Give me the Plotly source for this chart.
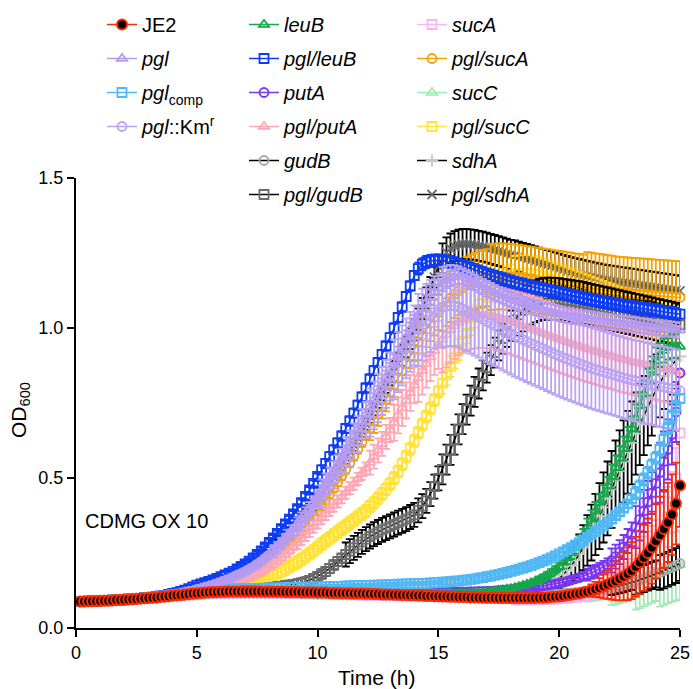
import plotly.graph_objects as go

# Time points (minutes), one reading every 10 min
TIME_MIN = list(range(10, 1501, 10))

# ---- Mean OD600 values (x1000), 6 readings per hour ----
JE2 = [
88,88,89,89,90,90, 91,91,92,93,93,94, 95,96,97,98,99,100, 101,102,104,105,106,108,
109,110,112,113,115,116, 117,118,119,120,120,121, 121,122,122,122,122,122, 122,122,122,122,121,121,
121,121,121,120,120,120, 120,119,119,119,119,118, 118,118,117,117,117,116, 116,116,115,115,115,114,
114,113,113,112,112,112, 111,111,110,110,109,109, 108,108,107,107,106,106, 105,105,104,104,103,103,
103,102,102,102,101,101, 101,101,100,100,100,100, 100,100,100,100,100,100, 101,101,102,103,104,105,
107,109,111,113,115,118, 121,125,129,134,139,145, 151,157,164,172,181,191, 204,218,234,250,268,290,
310,330,352,378,415,475]
PGL = [
88,89,89,90,90,91, 91,92,92,93,94,95, 96,97,98,99,100,101, 102,104,105,107,109,111,
113,116,119,122,125,129, 133,137,141,145,150,155, 160,165,171,177,183,190, 198,206,215,225,236,248,
260,273,286,300,315,330, 346,363,380,398,418,440, 461,481,501,521,543,566, 590,614,639,663,688,712,
737,762,787,812,838,864, 890,916,943,970,997,1022, 1045,1066,1086,1104,1120,1135, 1148,1158,1165,1170,1172,1172,
1165,1158,1151,1144,1137,1130, 1124,1118,1112,1106,1100,1095, 1090,1085,1080,1076,1072,1068, 1064,1060,1057,1054,1051,1048,
1045,1042,1040,1038,1036,1034, 1032,1030,1028,1026,1024,1022, 1020,1018,1017,1015,1013,1012, 1010,1008,1007,1005,1003,1002,
1000,998,997,995,994,992]
PGL_COMP = [
89,89,90,90,91,91, 92,92,93,94,94,95, 96,97,98,99,100,101, 102,104,105,107,108,110,
111,113,115,117,119,121, 122,124,125,126,127,128, 129,129,130,130,131,131, 131,132,132,132,133,133,
133,134,134,134,135,135, 135,136,136,136,137,137, 137,138,138,139,139,139, 140,140,141,141,142,142,
142,143,143,144,144,145, 145,146,146,147,147,148, 148,149,149,150,151,152, 153,154,155,156,157,159,
160,162,164,166,168,171, 173,176,179,182,185,189, 192,196,200,204,208,213, 218,223,228,234,240,247,
254,261,268,276,284,293, 302,311,321,331,341,352, 363,375,387,400,414,430, 450,472,495,518,542,567,
595,628,665,705,738,765]
PGL_KM = [
88,88,89,89,90,90, 91,91,92,93,93,94, 95,96,97,98,99,100, 102,103,105,106,108,110,
112,115,118,121,124,128, 131,135,139,143,148,153, 158,163,169,175,181,188, 195,203,212,221,232,243,
255,267,280,294,308,323, 339,355,372,390,409,429, 450,470,490,510,531,553, 576,599,622,646,670,694,
718,742,766,790,814,838, 862,886,909,932,954,975, 994,1011,1026,1040,1052,1062, 1069,1073,1075,1074,1070,1064,
1057,1050,1043,1036,1029,1022, 1015,1008,1001,994,987,980, 973,967,961,955,949,943, 937,931,925,919,913,907,
901,896,891,886,881,876, 871,866,862,858,854,850, 846,842,838,834,830,827, 824,821,818,815,812,809,
806,803,800,797,794,791]
LEUB = [
88,88,89,89,90,90, 91,91,92,92,93,94, 95,96,97,97,98,99, 100,101,102,103,104,105,
106,107,108,109,110,111, 112,113,113,114,114,115, 115,115,116,116,116,116, 116,116,116,116,116,116,
116,116,116,116,115,115, 115,115,115,115,114,114, 114,114,114,113,113,113, 113,113,112,112,112,112,
112,112,111,111,111,111, 111,111,111,111,111,111, 111,111,111,111,112,112, 112,112,113,113,114,114,
115,116,117,118,119,120, 121,123,125,127,129,131, 134,138,142,146,150,155, 160,167,175,184,194,205,
218,233,250,268,288,310, 335,362,390,418,446,474, 505,535,566,598,630,665, 700,740,780,820,860,890,
910,925,935,940,940,938]
PGL_LEUB = [
88,89,89,90,90,91, 91,92,93,94,94,95, 96,97,98,99,101,102, 103,105,107,109,112,115,
118,122,126,131,137,143, 147,151,155,160,165,171, 177,183,189,197,205,214, 223,234,245,257,270,285,
300,315,331,347,363,380, 398,418,439,460,482,505, 527,549,571,594,617,640, 665,690,716,743,770,800,
830,858,885,912,940,968, 1000,1035,1070,1105,1140,1175, 1198,1212,1220,1224,1225,1225, 1224,1222,1220,1216,1212,1208,
1204,1199,1194,1189,1184,1179, 1175,1171,1167,1163,1159,1155, 1151,1148,1145,1141,1138,1135, 1132,1129,1126,1123,1120,1117,
1114,1111,1108,1105,1102,1099, 1096,1094,1091,1089,1086,1084, 1081,1079,1076,1074,1072,1070, 1068,1066,1064,1062,1060,1058,
1056,1054,1052,1050,1048,1046]
PUTA = [
88,89,89,90,90,91, 91,92,93,93,94,95, 96,97,98,99,100,101, 102,103,105,106,107,109,
110,111,112,114,115,116, 117,118,119,120,120,121, 121,122,122,122,122,122, 122,122,122,122,122,122,
122,122,121,121,121,121, 121,121,120,120,120,120, 120,120,120,119,119,119, 119,119,119,119,118,118,
118,118,118,118,118,118, 118,118,118,118,118,118, 118,118,118,118,118,119, 119,119,119,120,120,120,
120,121,121,122,122,123, 123,124,125,126,127,128, 129,130,131,133,134,136, 138,140,142,144,147,150,
153,156,160,164,168,173, 178,184,190,197,204,212, 225,238,253,270,290,312, 336,362,390,420,450,482,
518,555,595,645,720,850]
PGL_PUTA = [
88,88,89,89,90,90, 91,91,92,92,93,93, 94,95,96,97,98,99, 100,101,102,103,104,106,
107,109,111,113,115,117, 120,123,126,130,135,140, 142,145,149,153,157,162, 167,173,180,187,195,204,
213,223,234,245,257,270, 283,296,310,324,338,352, 366,380,394,408,422,436, 451,466,481,497,514,532,
551,571,592,614,637,660, 684,709,734,759,784,809, 834,858,881,903,924,944, 962,979,994,1007,1018,1027,
1034,1039,1042,1044,1044,1043, 1041,1038,1035,1031,1027,1022, 1017,1012,1007,1002,997,992, 987,982,977,972,967,962,
957,952,948,943,939,934, 930,926,922,918,914,910, 906,902,898,895,892,888, 885,882,879,876,873,870,
867,864,861,858,855,852]
GUDB = [
88,89,89,90,90,91, 91,92,93,93,94,95, 96,97,98,99,100,101, 102,103,104,105,106,107,
108,109,110,111,112,113, 114,114,115,115,116,116, 117,117,117,117,117,117, 117,117,117,117,117,117,
117,117,116,116,116,116, 116,115,115,115,115,114, 114,114,114,113,113,113, 113,112,112,112,112,111,
111,111,111,110,110,110, 110,110,109,109,109,109, 109,108,108,108,108,108, 107,107,107,107,107,107,
107,107,107,107,107,107, 107,107,107,108,108,108, 108,109,109,109,110,110, 111,111,112,113,113,114,
115,116,117,118,119,121, 122,124,126,128,130,132, 135,138,141,144,148,152, 156,160,165,170,175,180,
185,190,196,202,208,215]
PGL_GUDB = [
88,89,89,90,90,91, 91,92,93,93,94,95, 96,97,98,99,100,101, 102,103,104,106,107,108,
109,110,112,113,114,116, 117,118,119,120,121,122, 123,124,124,125,126,127, 128,129,130,131,132,134,
135,137,139,141,143,145, 147,150,154,159,165,172, 180,189,199,210,221,233, 245,256,267,277,287,296,
305,313,320,327,333,339, 345,351,357,363,370,377, 392,406,424,446,471,499, 529,561,594,628,662,696,
728,758,787,815,842,868, 893,918,942,965,987,1008, 1027,1044,1059,1071,1081,1089, 1094,1097,1098,1098,1097,1096,
1094,1092,1090,1088,1086,1084, 1080,1077,1074,1071,1068,1065, 1062,1059,1056,1053,1050,1047, 1044,1041,1038,1035,1032,1029,
1026,1023,1020,1017,1014,1011]
SUCA = [
88,88,89,89,90,90, 91,91,92,93,93,94, 95,96,97,98,99,100, 101,102,103,104,105,106,
107,108,109,110,111,112, 113,114,114,115,115,116, 116,116,117,117,117,117, 117,117,117,117,117,116,
116,116,116,116,115,115, 115,115,114,114,114,114, 113,113,113,112,112,112, 112,111,111,111,110,110,
110,110,109,109,109,108, 108,108,107,107,107,106, 106,106,105,105,105,104, 104,104,103,103,103,102,
102,102,101,101,101,100, 100,100,100,99,99,99, 99,99,99,99,99,99, 99,100,100,101,101,102,
103,104,105,107,109,111, 113,116,119,122,126,130, 138,146,155,165,177,190, 204,219,235,252,270,290,
312,338,370,420,500,650]
PGL_SUCA = [
88,88,89,89,90,90, 91,91,92,92,93,94, 95,95,96,97,98,99, 100,101,103,104,106,107,
109,111,113,116,118,121, 124,127,130,134,138,142, 146,151,156,161,167,173, 180,187,195,204,213,223,
233,244,256,268,281,295, 309,324,340,356,373,391, 409,428,447,467,487,508, 529,551,573,596,619,642,
666,690,714,738,762,786, 810,834,858,882,906,930, 953,975,996,1016,1035,1053, 1070,1086,1100,1113,1124,1134,
1143,1150,1156,1161,1165,1168, 1170,1171,1172,1172,1171,1170, 1169,1167,1165,1163,1161,1159, 1157,1155,1153,1151,1149,1147,
1145,1143,1141,1139,1137,1135, 1133,1131,1129,1127,1125,1123, 1121,1119,1117,1116,1115,1114, 1113,1112,1111,1110,1109,1108,
1107,1106,1105,1104,1103,1102]
SUCC = [
87,87,88,88,89,89, 90,90,91,91,92,92, 93,94,94,95,96,97, 97,98,99,100,101,102,
103,104,105,106,107,108, 109,110,111,112,112,113, 113,114,114,115,115,115, 115,115,116,116,116,116,
116,116,116,116,116,115, 115,115,115,115,115,114, 114,114,114,114,113,113, 113,113,113,112,112,112,
112,112,111,111,111,111, 110,110,110,110,109,109, 109,109,108,108,108,108, 107,107,107,107,106,106,
106,106,106,105,105,105, 105,105,105,104,104,104, 104,104,104,104,104,104, 104,105,105,106,106,107,
107,108,109,110,111,112, 113,115,117,119,121,123, 126,129,133,137,141,146, 151,156,162,168,174,180,
186,192,197,202,206,210]
PGL_SUCC = [
88,89,89,90,90,91, 91,92,93,93,94,95, 96,97,98,99,100,101, 102,103,105,106,108,109,
111,112,114,116,118,120, 122,124,126,128,130,132, 134,136,138,140,143,146, 149,152,156,160,165,170,
176,182,189,196,204,212, 220,229,238,248,258,269, 280,290,300,310,320,330, 340,350,360,370,380,390,
405,418,432,447,463,480, 500,522,546,571,597,624, 651,678,705,732,760,788, 816,844,872,900,928,956,
983,1010,1036,1060,1083,1104, 1122,1138,1151,1162,1170,1176, 1180,1182,1183,1183,1182,1180, 1176,1172,1167,1162,1157,1152,
1147,1142,1137,1132,1127,1122, 1117,1112,1107,1102,1097,1092, 1087,1082,1077,1072,1067,1062, 1057,1052,1047,1042,1037,1032,
1028,1024,1020,1016,1012,1008]
SDHA = [
88,89,89,90,90,91, 91,92,93,93,94,95, 96,97,98,99,100,101, 102,103,104,105,106,107,
108,109,110,111,112,113, 114,115,115,116,116,117, 117,117,118,118,118,118, 118,118,118,118,118,118,
118,118,117,117,117,117, 117,116,116,116,116,115, 115,115,115,114,114,114, 114,113,113,113,113,112,
112,112,112,111,111,111, 111,111,110,110,110,110, 110,110,110,110,110,110, 110,110,110,110,111,111,
111,111,112,112,113,113, 114,115,116,117,118,120, 122,124,126,128,130,133, 135,139,144,150,157,165,
178,192,208,226,246,268, 292,318,345,373,402,432, 462,493,524,555,586,617, 648,678,708,737,765,792,
817,840,860,878,893,905]
PGL_SDHA = [
88,88,89,89,90,90, 91,91,92,93,93,94, 95,96,97,98,99,100, 101,103,104,106,108,110,
112,115,118,122,126,130, 134,138,142,147,152,157, 162,168,174,181,188,196, 204,213,222,232,242,253,
264,276,289,302,316,330, 345,360,376,393,410,428, 446,465,484,504,524,545, 566,588,610,633,656,680,
704,729,754,779,804,829, 855,882,909,937,965,994, 1030,1065,1100,1135,1170,1205, 1232,1252,1265,1273,1278,1280,
1280,1279,1277,1274,1271,1268, 1264,1260,1256,1252,1248,1244, 1242,1238,1234,1230,1226,1222, 1218,1214,1210,1206,1202,1198,
1194,1190,1186,1183,1180,1177, 1174,1171,1168,1165,1162,1160, 1158,1156,1154,1152,1150,1148, 1146,1144,1142,1140,1138,1136,
1134,1132,1130,1128,1126,1124]

# ---- Standard deviations (x1000) ----
JE2_SD = [
4,4,4,4,4,4, 4,4,4,4,4,4, 4,4,4,4,4,4, 4,4,4,4,4,4, 4,4,4,4,4,4,
5,5,5,5,5,5, 5,5,5,5,5,5, 5,5,5,5,5,5, 5,5,5,5,5,5, 5,5,5,5,5,5,
5,5,5,5,5,5, 5,5,5,5,5,5, 5,5,5,5,5,5, 5,5,5,5,5,5, 5,5,5,5,5,5,
5,5,5,5,5,5, 5,5,5,5,5,5, 5,5,5,5,5,5, 5,5,5,5,5,5, 5,5,5,5,5,5,
7,8,9,10,11,13, 15,20,25,32,40,48, 56,64,72,80,88,95, 100,105,110,115,120,125, 128,130,132,134,136,138]
PGL_SD = [
4,4,4,4,4,4, 4,4,4,4,4,4, 4,4,4,4,4,4, 4,4,4,4,4,4, 4,4,4,4,4,4,
6,6,6,6,6,6, 6,6,6,6,6,6, 6,6,6,6,6,6, 10,10,10,10,10,10, 12,12,12,12,12,12,
15,15,15,15,15,15, 18,18,18,18,18,18, 20,20,20,20,20,20, 22,22,22,22,22,22, 25,25,25,25,25,25,
25,25,25,25,25,25, 25,25,25,25,25,25, 25,25,25,25,25,25, 25,25,25,25,25,25, 25,25,25,25,25,25,
25,25,25,25,25,25, 25,25,25,25,25,25, 25,25,25,25,25,25, 25,25,25,25,25,25, 25,25,25,25,25,25]
PGL_COMP_SD = [
5,5,5,5,5,5, 5,5,5,5,5,5, 5,5,5,5,5,5, 5,5,5,5,5,5, 5,5,5,5,5,5,
5,5,5,5,5,5, 5,5,5,5,5,5, 5,5,5,5,5,5, 5,5,5,5,5,5, 5,5,5,5,5,5,
5,5,5,5,5,5, 5,5,5,5,5,5, 5,5,5,5,5,5, 5,5,5,5,5,5, 5,5,5,5,5,5,
8,8,8,8,8,8, 8,8,8,8,8,8, 8,8,8,8,8,8, 8,8,8,8,8,8, 8,8,8,8,8,8,
12,12,12,12,12,12, 12,12,12,12,12,12, 12,12,12,12,12,12, 20,20,20,20,20,20, 20,20,20,20,20,20]
PGL_KM_SD = [
5,5,5,5,5,5, 5,5,5,5,5,5, 5,5,5,5,5,5, 5,5,5,5,5,5, 5,5,5,5,5,5,
10,10,10,10,10,10, 10,10,10,10,10,10, 10,10,10,10,10,10, 20,20,20,20,20,20, 30,30,30,30,30,30,
45,45,45,45,45,45, 60,60,60,60,60,60, 80,80,80,80,80,80, 100,100,100,100,100,100, 120,120,120,120,120,120,
135,135,135,135,135,135, 135,135,135,135,135,135, 135,135,135,135,135,135, 135,135,135,135,135,135, 135,135,135,135,135,135,
135,135,135,135,135,135, 135,135,135,135,135,135, 135,135,135,135,135,135, 135,135,135,135,135,135, 135,135,135,135,135,135]
LEUB_SD = [
5,5,5,5,5,5, 5,5,5,5,5,5, 5,5,5,5,5,5, 5,5,5,5,5,5, 5,5,5,5,5,5,
5,5,5,5,5,5, 5,5,5,5,5,5, 5,5,5,5,5,5, 5,5,5,5,5,5, 5,5,5,5,5,5,
5,5,5,5,5,5, 5,5,5,5,5,5, 5,5,5,5,5,5, 5,5,5,5,5,5, 5,5,5,5,5,5,
5,5,5,5,5,5, 5,5,5,5,5,5, 8,8,8,8,8,8, 8,8,8,8,8,8, 12,12,12,12,12,12,
20,20,20,20,20,20, 30,30,30,30,30,30, 40,40,40,40,40,40, 45,45,45,45,45,45, 40,40,40,40,40,40]
PGL_LEUB_SD = [
5,5,5,5,5,5, 5,5,5,5,5,5, 5,5,5,5,5,5, 5,5,5,5,5,5, 5,5,5,5,5,5,
5,5,5,5,5,5, 10,10,10,10,10,10, 10,10,10,10,10,10, 10,10,10,10,10,10, 10,10,10,10,10,10,
15,15,15,15,15,15, 15,15,15,15,15,15, 15,15,15,15,15,15, 15,15,15,15,15,15, 20,20,20,20,20,20,
20,20,20,20,20,20, 20,20,20,20,20,20, 20,20,20,20,20,20, 20,20,20,20,20,20, 20,20,20,20,20,20,
20,20,20,20,20,20, 20,20,20,20,20,20, 20,20,20,20,20,20, 20,20,20,20,20,20, 20,20,20,20,20,20]
PUTA_SD = [
5,5,5,5,5,5, 5,5,5,5,5,5, 5,5,5,5,5,5, 5,5,5,5,5,5, 5,5,5,5,5,5,
5,5,5,5,5,5, 5,5,5,5,5,5, 5,5,5,5,5,5, 5,5,5,5,5,5, 5,5,5,5,5,5,
5,5,5,5,5,5, 5,5,5,5,5,5, 5,5,5,5,5,5, 5,5,5,5,5,5, 5,5,5,5,5,5,
5,5,5,5,5,5, 5,5,5,5,5,5, 5,5,5,5,5,5, 5,5,5,5,5,5, 10,10,10,10,10,10,
10,10,10,10,10,10, 20,20,20,20,20,20, 40,40,40,40,40,40, 70,70,70,70,70,70, 100,100,100,100,100,100]
PGL_PUTA_SD = [
5,5,5,5,5,5, 5,5,5,5,5,5, 5,5,5,5,5,5, 5,5,5,5,5,5, 5,5,5,5,5,5,
5,5,5,5,5,5, 10,10,10,10,10,10, 10,10,10,10,10,10, 10,10,10,10,10,10, 20,20,20,20,20,20,
20,20,20,20,20,20, 20,20,20,20,20,20, 40,40,40,40,40,40, 60,60,60,60,60,60, 80,80,80,80,80,80,
110,110,110,110,110,110, 110,110,110,110,110,110, 110,110,110,110,110,110, 110,110,110,110,110,110, 110,110,110,110,110,110,
110,110,110,110,110,110, 110,110,110,110,110,110, 110,110,110,110,110,110, 110,110,110,110,110,110, 110,110,110,110,110,110]
GUDB_SD = [
5,5,5,5,5,5, 5,5,5,5,5,5, 5,5,5,5,5,5, 5,5,5,5,5,5, 5,5,5,5,5,5,
5,5,5,5,5,5, 5,5,5,5,5,5, 5,5,5,5,5,5, 5,5,5,5,5,5, 5,5,5,5,5,5,
5,5,5,5,5,5, 5,5,5,5,5,5, 5,5,5,5,5,5, 5,5,5,5,5,5, 5,5,5,5,5,5,
5,5,5,5,5,5, 5,5,5,5,5,5, 5,5,5,5,5,5, 5,5,5,5,5,5, 5,5,5,5,5,5,
8,8,8,8,8,8, 12,12,12,12,12,12, 25,25,25,25,25,25, 45,45,45,45,45,45, 58,58,58,58,58,58]
PGL_GUDB_SD = [
5,5,5,5,5,5, 5,5,5,5,5,5, 5,5,5,5,5,5, 5,5,5,5,5,5, 5,5,5,5,5,5,
5,5,5,5,5,5, 5,5,5,5,5,5, 5,5,5,5,5,5, 15,15,15,15,15,15, 15,15,15,15,15,15,
15,15,15,15,15,15, 40,40,40,40,40,40, 40,40,40,40,40,40, 40,40,40,40,40,40, 40,40,40,40,40,40,
50,50,50,50,50,50, 50,50,50,50,50,50, 50,50,50,50,50,50, 70,70,70,70,70,70, 70,70,70,70,70,70,
70,70,70,70,70,70, 70,70,70,70,70,70, 70,70,70,70,70,70, 70,70,70,70,70,70, 70,70,70,70,70,70]
SUCA_SD = [
8,8,8,8,8,8, 8,8,8,8,8,8, 8,8,8,8,8,8, 8,8,8,8,8,8, 8,8,8,8,8,8,
8,8,8,8,8,8, 8,8,8,8,8,8, 8,8,8,8,8,8, 8,8,8,8,8,8, 8,8,8,8,8,8,
8,8,8,8,8,8, 8,8,8,8,8,8, 8,8,8,8,8,8, 8,8,8,8,8,8, 8,8,8,8,8,8,
8,8,8,8,8,8, 8,8,8,8,8,8, 8,8,8,8,8,8, 20,20,20,20,20,20, 20,20,20,20,20,20,
20,20,20,20,20,20, 20,20,20,20,20,20, 40,40,40,40,40,40, 70,70,70,70,70,70, 100,100,100,100,100,100]
PGL_SUCA_SD = [
5,5,5,5,5,5, 5,5,5,5,5,5, 5,5,5,5,5,5, 5,5,5,5,5,5, 5,5,5,5,5,5,
5,5,5,5,5,5, 5,5,5,5,5,5, 5,5,5,5,5,5, 15,15,15,15,15,15, 15,15,15,15,15,15,
15,15,15,15,15,15, 15,15,15,15,15,15, 40,40,40,40,40,40, 40,40,40,40,40,40, 60,60,60,60,60,60,
80,80,80,80,80,80, 95,95,95,95,95,95, 110,110,110,110,110,110, 110,110,110,110,110,110, 110,110,110,110,110,110,
110,110,110,110,110,110, 120,120,120,120,120,120, 120,120,120,120,120,120, 120,120,120,120,120,120, 120,120,120,120,120,120]
SUCC_SD = [
6,6,6,6,6,6, 6,6,6,6,6,6, 6,6,6,6,6,6, 6,6,6,6,6,6, 6,6,6,6,6,6,
6,6,6,6,6,6, 6,6,6,6,6,6, 6,6,6,6,6,6, 6,6,6,6,6,6, 6,6,6,6,6,6,
6,6,6,6,6,6, 6,6,6,6,6,6, 6,6,6,6,6,6, 6,6,6,6,6,6, 6,6,6,6,6,6,
6,6,6,6,6,6, 6,6,6,6,6,6, 6,6,6,6,6,6, 6,6,6,6,6,6, 6,6,6,6,6,6,
10,10,10,10,10,10, 25,25,25,25,25,25, 50,50,50,50,50,50, 90,90,90,90,90,90, 115,115,115,115,115,115]
PGL_SUCC_SD = [
5,5,5,5,5,5, 5,5,5,5,5,5, 5,5,5,5,5,5, 5,5,5,5,5,5, 5,5,5,5,5,5,
5,5,5,5,5,5, 5,5,5,5,5,5, 5,5,5,5,5,5, 20,20,20,20,20,20, 20,20,20,20,20,20,
20,20,20,20,20,20, 20,20,20,20,20,20, 20,20,20,20,20,20, 20,20,20,20,20,20, 20,20,20,20,20,20,
35,35,35,35,35,35, 35,35,35,35,35,35, 35,35,35,35,35,35, 60,60,60,60,60,60, 60,60,60,60,60,60,
60,60,60,60,60,60, 60,60,60,60,60,60, 60,60,60,60,60,60, 60,60,60,60,60,60, 60,60,60,60,60,60]
SDHA_SD = [
5,5,5,5,5,5, 5,5,5,5,5,5, 5,5,5,5,5,5, 5,5,5,5,5,5, 5,5,5,5,5,5,
5,5,5,5,5,5, 5,5,5,5,5,5, 5,5,5,5,5,5, 5,5,5,5,5,5, 5,5,5,5,5,5,
5,5,5,5,5,5, 5,5,5,5,5,5, 5,5,5,5,5,5, 5,5,5,5,5,5, 5,5,5,5,5,5,
5,5,5,5,5,5, 5,5,5,5,5,5, 5,5,5,5,5,5, 8,9,10,11,12,14, 16,18,21,24,28,32,
37,43,50,58,66,75, 84,93,102,110,117,123, 128,132,135,137,138,138, 137,135,132,128,124,120, 115,110,105,100,96,92]
PGL_SDHA_SD = [
5,5,5,5,5,5, 5,5,5,5,5,5, 5,5,5,5,5,5, 5,5,5,5,5,5, 5,5,5,5,5,5,
5,5,5,5,5,5, 5,5,5,5,5,5, 5,5,5,5,5,5, 20,20,20,20,20,20, 20,20,20,20,20,20,
20,20,20,20,20,20, 20,20,20,20,20,20, 20,20,20,20,20,20, 35,35,35,35,35,35, 35,35,35,35,35,35,
50,50,50,50,50,50, 50,50,50,50,50,50, 50,50,50,50,50,50, 50,50,50,50,50,50, 50,50,50,50,50,50,
50,50,50,50,50,50, 50,50,50,50,50,50, 50,50,50,50,50,50, 50,50,50,50,50,50, 50,50,50,50,50,50]

# ---- Legend labels (column order as in the reference) ----
LABELS = [
    "JE2", "<i>pgl</i>", "<i>pgl</i><sub>comp</sub>", "<i>pgl</i>::Km<sup>r</sup>",
    "<i>leuB</i>", "<i>pgl/leuB</i>", "<i>putA</i>", "<i>pgl/putA</i>", "<i>gudB</i>", "<i>pgl/gudB</i>",
    "<i>sucA</i>", "<i>pgl/sucA</i>", "<i>sucC</i>", "<i>pgl/sucC</i>", "<i>sdhA</i>", "<i>pgl/sdhA</i>",
]
MEANS = [JE2, PGL, PGL_COMP, PGL_KM, LEUB, PGL_LEUB, PUTA, PGL_PUTA, GUDB, PGL_GUDB,
         SUCA, PGL_SUCA, SUCC, PGL_SUCC, SDHA, PGL_SDHA]
SDS = [JE2_SD, PGL_SD, PGL_COMP_SD, PGL_KM_SD, LEUB_SD, PGL_LEUB_SD, PUTA_SD, PGL_PUTA_SD,
       GUDB_SD, PGL_GUDB_SD, SUCA_SD, PGL_SUCA_SD, SUCC_SD, PGL_SUCC_SD, SDHA_SD, PGL_SDHA_SD]

# ---- Styles: (line colour, marker symbol, marker colour, legend id) ----
STYLES = [
    ("#FF2A00", "circle", "#000000", "legend"),
    ("#B59AF2", "triangle-up-open", "#B59AF2", "legend"),
    ("#4FB8F5", "square-open", "#4FB8F5", "legend"),
    ("#B9A3F2", "circle-open", "#B9A3F2", "legend"),
    ("#14A84A", "triangle-up-open", "#14A84A", "legend2"),
    ("#0D3CF2", "square-open", "#0D3CF2", "legend2"),
    ("#7A35F0", "circle-open", "#7A35F0", "legend2"),
    ("#FFA6B5", "triangle-up-open", "#FFA6B5", "legend2"),
    ("#000000", "circle-open", "#A8A8A8", "legend2"),
    ("#000000", "square-open", "#6B6B6B", "legend2"),
    ("#F7B5F2", "square-open", "#F7B5F2", "legend3"),
    ("#F5A100", "circle-open", "#F5A100", "legend3"),
    ("#A3EBB5", "triangle-up-open", "#A3EBB5", "legend3"),
    ("#FFE23A", "square-open", "#FFE23A", "legend3"),
    ("#000000", "cross-thin-open", "#C8C8C8", "legend3"),
    ("#000000", "x-thin-open", "#6B6B6B", "legend3"),
]

FONT = "Liberation Sans, Arial, Helvetica, sans-serif"
hours = [m / 60 for m in TIME_MIN]

fig = go.Figure()
# draw in reverse so that JE2 ends up on top
for idx in reversed(range(len(LABELS))):
    lc, sym, mc, leg = STYLES[idx]
    y = [v / 1000 for v in MEANS[idx]]
    e = [v / 1000 for v in SDS[idx]]
    if sym == "circle":
        marker = dict(symbol=sym, size=10, color=mc, line=dict(color=lc, width=2))
    else:
        marker = dict(symbol=sym, size=9, color=mc, line=dict(color=mc, width=1.8))
    fig.add_trace(go.Scatter(
        x=hours, y=y, mode="lines+markers", name=LABELS[idx],
        line=dict(color=lc, width=1.5), marker=marker,
        error_y=dict(type="data", array=e, visible=True, color=lc, thickness=1.8, width=4),
        legend=leg, legendgroup=f"g{idx}", legendrank=idx, cliponaxis=False,
    ))

legend_common = dict(
    xref="container", yref="container", xanchor="left", yanchor="top",
    bgcolor="rgba(0,0,0,0)", font=dict(family=FONT, size=20, color="black"),
    tracegroupgap=5, itemwidth=30, traceorder="grouped",
)
fig.update_layout(
    width=693, height=689,
    margin=dict(l=76, r=13, t=178, b=61, autoexpand=False),
    paper_bgcolor="white", plot_bgcolor="white",
    font=dict(family=FONT, color="black"),
    legend=dict(x=102 / 693, y=1 - 5 / 689, **legend_common),
    legend2=dict(x=244 / 693, y=1 - 5 / 689, **legend_common),
    legend3=dict(x=412 / 693, y=1 - 5 / 689, **legend_common),
    showlegend=True,
)
fig.update_xaxes(
    range=[0, 25], tickvals=[0, 5, 10, 15, 20, 25], showgrid=False, zeroline=False,
    showline=True, linecolor="black", linewidth=2, ticks="outside", ticklen=7, tickwidth=2,
    tickcolor="black", tickfont=dict(size=18, family=FONT), automargin=False,
)
fig.update_yaxes(
    range=[0, 1.5], tickvals=[0, 0.5, 1.0, 1.5], tickformat=".1f", showgrid=False, zeroline=False,
    showline=True, linecolor="black", linewidth=2, ticks="outside", ticklen=7, tickwidth=2,
    tickcolor="black", tickfont=dict(size=18, family=FONT), automargin=False,
)
# axis titles
fig.add_annotation(
    text="Time (h)", xref="paper", yref="paper", x=0.497, y=-0.109,
    xanchor="center", yanchor="middle", showarrow=False, font=dict(size=21, family=FONT),
)
fig.add_annotation(
    text="OD<sub>600</sub>", xref="paper", yref="paper", x=-0.093, y=0.484, textangle=-90,
    xanchor="center", yanchor="middle", showarrow=False, font=dict(size=21, family=FONT),
)
fig.add_annotation(
    text="CDMG OX 10", xref="paper", yref="paper", x=0.012, y=0.238,
    xanchor="left", yanchor="middle", showarrow=False, font=dict(size=20, family=FONT),
)
fig.write_html("out.html")
